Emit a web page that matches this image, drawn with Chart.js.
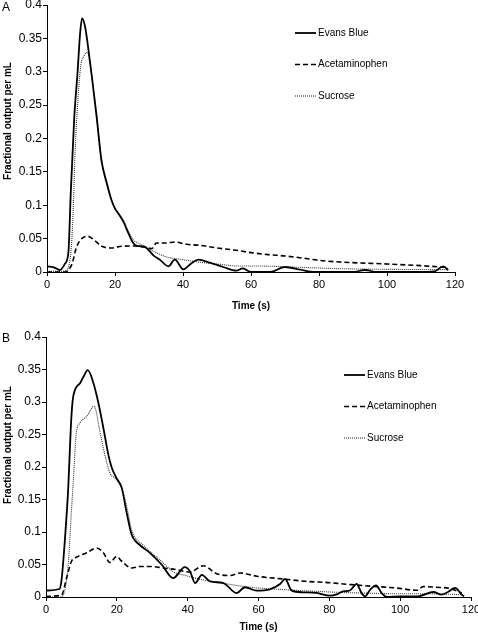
<!DOCTYPE html>
<html lang="en">
<head>
    <meta charset="UTF-8">
    <title>Fractional output per mL</title>
    <script src="https://cdn.jsdelivr.net/npm/chart.js"></script>
    <style>
        body {
            margin: 0;
            background: #fff;
            width: 478px;
            height: 638px;
            overflow: hidden;
        }
        canvas { display: block; }
    </style>
</head>
<body>
    <canvas id="chartA" width="478" height="318"></canvas>
    <canvas id="chartB" width="478" height="320"></canvas>

    <script>
        // ---- panel A ----
        const timeEvansA = [0, 2, 3.8, 5.3, 6.3, 7, 8, 9, 9.7, 10.3, 11.2, 12.2, 13.2, 14.6, 16, 17.6, 19, 20, 21, 22.5, 24, 25.4, 26.5, 28.7, 30, 31.3, 33.2, 35.7, 37.6, 40.1, 42.5, 44.5, 47.9, 51.8, 55.7, 57.6, 60, 65.6, 70, 74.5, 78.4, 90, 93.5, 97, 110, 114, 116.5, 118];
        const evansA = [0.0085, 0.007, 0.003, 0.0125, 0.03, 0.12, 0.23, 0.30, 0.355, 0.38, 0.3675, 0.3325, 0.2925, 0.2325, 0.1675, 0.1325, 0.107, 0.095, 0.0875, 0.075, 0.0575, 0.043, 0.039, 0.038, 0.032, 0.025, 0.0185, 0.0085, 0.0185, 0.004, 0.013, 0.0185, 0.014, 0.0075, 0.002, 0.0055, 0, 0, 0.0075, 0.0035, 0, 0, 0.003, 0, 0, 0.001, 0.0085, 0.003];

        const timeAcetA = [0, 5.3, 7.3, 8.7, 10.2, 12, 13.6, 16.1, 19, 21.9, 26.4, 29.3, 30.8, 32.2, 35.1, 37.6, 41, 45, 50, 55, 60, 65, 70, 75, 80, 86, 100, 110, 116, 118];
        const acetA = [0, 0, 0.0115, 0.0375, 0.05, 0.0535, 0.049, 0.0385, 0.036, 0.0385, 0.039, 0.0365, 0.035, 0.0435, 0.0435, 0.045, 0.0415, 0.04, 0.036, 0.033, 0.029, 0.026, 0.024, 0.021, 0.0175, 0.015, 0.012, 0.0095, 0.0075, 0.007];

        const timeSucA = [0, 4, 5.5, 6.3, 7.3, 7.8, 8.2, 8.9, 9.9, 11, 11.9, 12.6, 13.2, 14.6, 16, 17.6, 19, 21, 22.5, 24, 25.4, 27.3, 29.3, 31.3, 35.2, 39.2, 43.1, 46, 50.9, 56, 61.8, 71.6, 86, 100, 118];
        const sucA = [0.001, 0.001, 0.002, 0.007, 0.048, 0.107, 0.172, 0.243, 0.3075, 0.325, 0.329, 0.315, 0.292, 0.235, 0.17, 0.135, 0.108, 0.088, 0.077, 0.06, 0.048, 0.042, 0.036, 0.031, 0.0225, 0.019, 0.016, 0.014, 0.0115, 0.009, 0.009, 0.0075, 0.005, 0.004, 0.0035];

        // ---- panel B ----
        const timeEvansB = [0, 3.8, 4.4, 5.4, 6.3, 7.0, 7.5, 8.2, 9.6, 10.5, 11.8, 13.4, 14.8, 16.2, 17.6, 18.5, 19.9, 21.4, 22.8, 24.2, 26.5, 29.4, 32.7, 35.9, 39.2, 40.7, 42.1, 44, 46.3, 50.1, 53.8, 56.2, 59.5, 63.2, 66.1, 67.5, 69.4, 72.6, 76.4, 80.2, 82.1, 83.9, 85.8, 87.7, 89.1, 90.1, 91.5, 93.2, 94.8, 96.2, 100, 105, 109.4, 111.7, 113.6, 115.5, 117.4, 118];
        const evansB = [0.010, 0.0123, 0.0266, 0.093, 0.17, 0.26, 0.301, 0.319, 0.329, 0.338, 0.349, 0.329, 0.2985, 0.26, 0.219, 0.2, 0.183, 0.1675, 0.129, 0.0957, 0.08, 0.0676, 0.0496, 0.029, 0.046, 0.039, 0.0215, 0.034, 0.024, 0.0215, 0.006, 0.015, 0.0097, 0.0118, 0.02, 0.0277, 0.0097, 0.0072, 0.0062, 0.002, 0.004, 0.0087, 0.01, 0.02, 0.006, 0.001, 0.011, 0.018, 0.006, 0, 0.001, 0.001, 0.0077, 0.0036, 0.008, 0.014, 0.0036, 0.001];

        const timeAcetB = [0, 4.4, 5.8, 7.2, 8.7, 11.5, 14.3, 16.2, 18.1, 19.9, 21.4, 24.2, 26.5, 29.4, 33.1, 36.9, 40.6, 44.4, 48.2, 52, 54.8, 59.5, 67, 73.6, 80.2, 84, 87.7, 93.4, 99, 104.7, 106.5, 110.3, 114.1, 117.4];
        const acetB = [0.001, 0.003, 0.029, 0.055, 0.0615, 0.068, 0.0753, 0.068, 0.053, 0.0624, 0.055, 0.0446, 0.047, 0.047, 0.0446, 0.042, 0.0384, 0.048, 0.0358, 0.033, 0.037, 0.032, 0.0277, 0.024, 0.022, 0.02, 0.0185, 0.016, 0.0138, 0.0103, 0.016, 0.015, 0.013, 0.006];

        const timeSucB = [0, 4, 4.9, 6.3, 7.2, 7.9, 8.5, 9.6, 11.5, 13.6, 15.2, 16.6, 18.1, 19.5, 21.4, 22.8, 24.2, 27.4, 32.2, 35.9, 39.6, 43.7, 50.1, 57.6, 67, 76.4, 82.5, 90.1, 99, 106.9, 117.8];
        const sucB = [0, 0, 0.003, 0.052, 0.134, 0.196, 0.25, 0.268, 0.278, 0.2935, 0.255, 0.219, 0.19, 0.183, 0.168, 0.139, 0.103, 0.08, 0.057, 0.039, 0.0327, 0.027, 0.021, 0.015, 0.0114, 0.0087, 0.0072, 0.006, 0.005, 0.005, 0.0036];

        const seriesNames = ['Evans Blue', 'Acetaminophen', 'Sucrose'];
        const xTicks = [0, 20, 40, 60, 80, 100, 120];
        const yTicks = [0, 0.05, 0.1, 0.15, 0.2, 0.25, 0.3, 0.35, 0.4];

        const FONT = '"Liberation Sans", Arial, sans-serif';

        function pts(xs, ys) {
            return xs.map((x, i) => ({ x: x, y: ys[i] }));
        }

        // letter, rotated y title and legend drawn by hand
        const panelDecor = {
            id: 'panelDecor',
            afterDraw(chart, args, o) {
                const ctx = chart.ctx;
                ctx.save();
                ctx.fillStyle = '#000';
                ctx.font = '12px ' + FONT;
                ctx.textAlign = 'left';
                ctx.textBaseline = 'alphabetic';
                ctx.fillText(o.letter, 2, o.letterY);

                ctx.save();
                ctx.translate(o.titleX, o.titleY);
                ctx.rotate(-Math.PI / 2);
                ctx.font = 'bold 10px ' + FONT;
                ctx.textAlign = 'center';
                ctx.textBaseline = 'middle';
                ctx.fillText('Fractional output per mL', 0, 0);
                ctx.restore();

                ctx.font = '10px ' + FONT;
                ctx.textBaseline = 'middle';
                chart.data.datasets.forEach((ds, i) => {
                    const y = o.legendY + i * o.legendGap;
                    ctx.beginPath();
                    ctx.setLineDash(ds.borderDash || []);
                    ctx.lineWidth = ds.borderWidth;
                    ctx.strokeStyle = ds.borderColor;
                    ctx.moveTo(o.legendX, y);
                    ctx.lineTo(o.legendX + 21, y);
                    ctx.stroke();
                    ctx.setLineDash([]);
                    ctx.fillText(ds.label, o.legendX + 23, y);
                });
                ctx.restore();
            }
        };

        function makeChart(id, evans, acet, suc, lay) {
            const ctx = document.getElementById(id).getContext('2d');
            return new Chart(ctx, {
                type: 'line',
                data: {
                    datasets: [{
                        label: seriesNames[0],
                        data: evans,
                        borderColor: '#000',
                        borderWidth: 1.8
                    }, {
                        label: seriesNames[1],
                        data: acet,
                        borderColor: '#000',
                        borderWidth: 1.6,
                        borderDash: [5, 3]
                    }, {
                        label: seriesNames[2],
                        data: suc,
                        borderColor: '#333',
                        borderWidth: 1.1,
                        borderDash: [1, 1]
                    }]
                },
                options: {
                    responsive: false,
                    animation: false,
                    layout: { padding: { top: lay.top, right: lay.right, left: 0, bottom: 0 } },
                    elements: {
                        point: { radius: 0 },
                        line: { cubicInterpolationMode: 'monotone', fill: false }
                    },
                    plugins: {
                        legend: { display: false },
                        tooltip: { enabled: false },
                        panelDecor: lay.decor
                    },
                    scales: {
                        x: {
                            type: 'linear',
                            min: 0,
                            max: 120,
                            afterBuildTicks: s => { s.ticks = xTicks.map(v => ({ value: v })); },
                            afterFit: s => { s.height = lay.xHeight; s.paddingLeft = 0; s.paddingRight = 0; },
                            ticks: { color: '#000', font: { family: FONT, size: 11 }, padding: 2, maxRotation: 0 },
                            grid: { drawOnChartArea: false, color: '#000', tickLength: 4 },
                            border: { color: '#000', width: 1 },
                            title: {
                                display: true,
                                text: 'Time (s)',
                                color: '#000',
                                font: { family: FONT, size: 10, weight: 'bold' },
                                padding: { top: 4, bottom: lay.titlePad }
                            }
                        },
                        y: {
                            min: 0,
                            max: 0.4,
                            afterBuildTicks: s => { s.ticks = yTicks.map(v => ({ value: v })); },
                            afterFit: s => { s.width = lay.yWidth; s.paddingTop = 0; s.paddingBottom = 0; },
                            ticks: {
                                color: '#000',
                                font: { family: FONT, size: 12 },
                                padding: 1,
                                callback: v => String(+v.toFixed(2))
                            },
                            grid: { drawOnChartArea: false, color: '#000', tickLength: 4 },
                            border: { color: '#000', width: 1 }
                        }
                    }
                },
                plugins: [panelDecor]
            });
        }

        makeChart('chartA', pts(timeEvansA, evansA), pts(timeAcetA, acetA), pts(timeSucA, sucA), {
            top: 5, right: 23, xHeight: 46, yWidth: 47, titlePad: 6,
            decor: { letter: 'A', letterY: 11, titleX: 8, titleY: 121, legendX: 295, legendY: 33, legendGap: 31.5 }
        });

        makeChart('chartB', pts(timeEvansB, evansB), pts(timeAcetB, acetB), pts(timeSucB, sucB), {
            top: 19, right: 7, xHeight: 41, yWidth: 46, titlePad: 5,
            decor: { letter: 'B', letterY: 24, titleX: 8, titleY: 127, legendX: 344, legendY: 57, legendGap: 31.5 }
        });
    </script>
</body>
</html>
